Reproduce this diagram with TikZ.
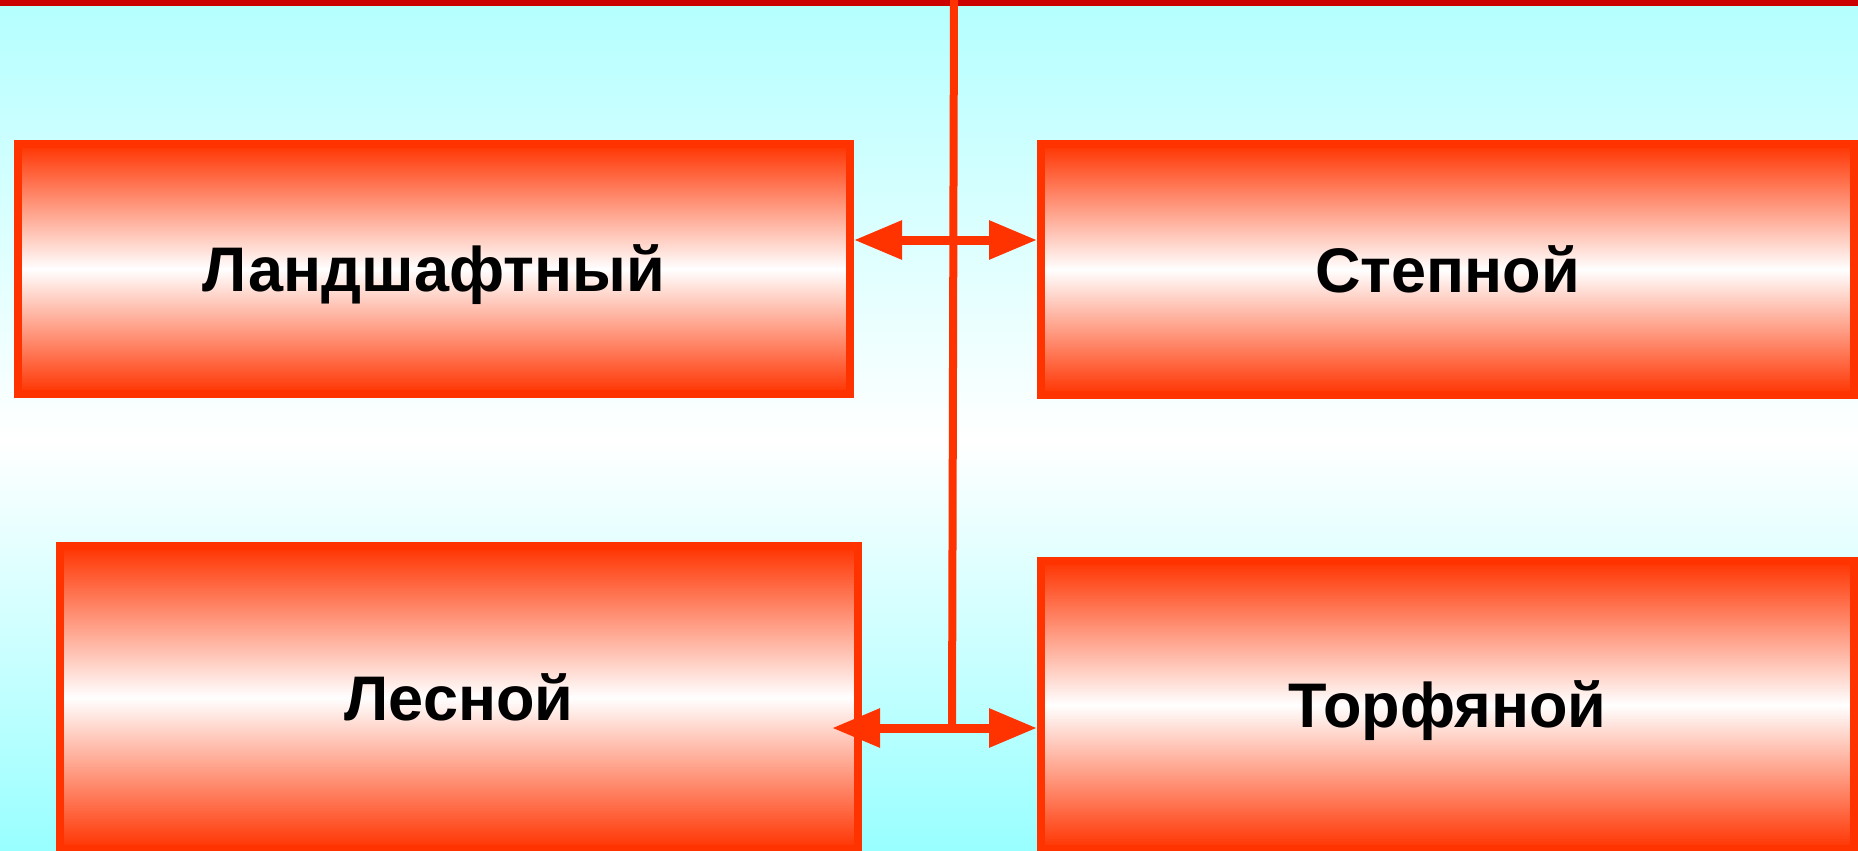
\documentclass[tikz,border=0pt]{standalone}
\usepackage{fontspec}
\setmainfont{Liberation Sans}
\usetikzlibrary{arrows.meta}
\definecolor{redA}{HTML}{FF3300}
\definecolor{barred}{HTML}{CC0000}
\definecolor{cyanT}{HTML}{B4FFFF}
\definecolor{cyanB}{HTML}{99FFFF}
\begin{document}
\begin{tikzpicture}[x=0.5pt,y=-0.5pt,
  box/.style={draw=redA, line width=4pt, top color=redA, bottom color=redA, middle color=white,
    font=\fontsize{31.5}{38}\selectfont\bfseries, text=black, inner sep=0pt,
    text height=22.5pt, text depth=0pt},
  link/.style={draw=redA, line width=4.5pt},
  dbl/.style={link, {Triangle[length=24pt,width=18.5pt]}-{Triangle[length=24pt,width=18.5pt]}}]
\useasboundingbox (0,0) rectangle (1858,851);
\shade[top color=cyanT, bottom color=white] (0,0) rectangle (1858,440);
\shade[top color=white, bottom color=cyanB] (0,440) rectangle (1858,851);
\fill[barred] (0,0) rectangle (1858,6);
\node[box, minimum width=416pt, minimum height=125pt] (b1) at (434,269) {Ландшафтный};
\node[box, minimum width=406.5pt, minimum height=125.5pt] (b2) at (1447.5,269.5) {Степной};
\node[box, minimum width=399pt, minimum height=151.5pt] (b3) at (459,697.5) {Лесной};
\node[box, minimum width=406.5pt, minimum height=144pt] (b4) at (1447.5,705) {Торфяной};
\coordinate (vt) at (954,0);
\coordinate (vb) at (952,728);
\coordinate (ua) at (954,240);
\coordinate (la) at (832,728);
\draw[link, line width=4pt] (vt) -- (vb);
\draw[dbl] (b1.east |- ua) -- (b2.west |- ua);
\draw[dbl] (la) -- (b4.west |- la);
\end{tikzpicture}
\end{document}
